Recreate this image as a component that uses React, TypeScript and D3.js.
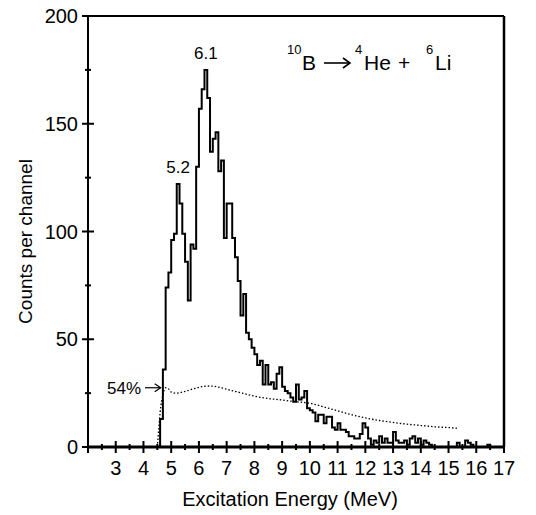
import React from "react";
import * as d3 from "d3";

// Histogram: counts per 0.1 MeV channel, first channel starts at 4.6 MeV
const binStart = 4.6;
const binWidth = 0.1;
const counts = [
  13, 36, 74, 81, 96, 99, 122, 113, 99, 86,
  68, 94, 92, 130, 157, 166, 175, 162, 137, 143,
  146, 128, 133, 97, 113, 113, 97, 88, 77, 61,
  71, 53, 50, 46, 43, 38, 40, 29, 38, 29,
  30, 27, 34, 37, 28, 26, 25, 23, 21, 29,
  22, 23, 26, 18, 17, 16, 12, 15, 15, 11,
  14, 14, 9, 8, 11, 8, 8, 7, 5, 5,
  4, 4, 6, 11, 9, 4, 1, 3, 2, 5,
  2, 4, 2, 2, 7, 3, 2, 2, 3, 1,
  4, 5, 2, 4, 1, 3, 2, 1, 0, 0,
  0, 0, 0, 0, 0, 0, 0, 2, 0, 0,
  3, 2, 1, 0, 0, 0, 0, 0, 1, 0,
];

// Dotted curve (54% level)
const dottedE = [4.5, 4.55, 4.6, 4.7, 4.8, 4.9, 5.0, 5.2, 5.5, 5.8, 6.1, 6.4, 6.7, 7.0, 7.5, 8.0, 8.5, 9.0, 9.5, 10.0, 10.5, 11.0, 11.5, 12.0, 12.5, 13.0, 13.5, 14.0, 14.5, 15.0, 15.3];
const dottedC = [0, 8, 16, 24, 27.5, 27, 25.5, 25, 25.8, 27, 28, 28.3, 27.8, 26.8, 25.2, 23.6, 22.5, 21.8, 21, 20.3, 18.6, 16.8, 15, 13.5, 12.3, 11.4, 10.6, 10, 9.4, 9, 8.7];

const xTickLabels = [3, 4, 5, 6, 7, 8, 9, 10, 11, 12, 13, 14, 15, 16, 17];
const yTickLabels = [0, 50, 100, 150, 200];

const peakLabels = [
  { text: "5.2", e: 5.25, c: 122 },
  { text: "6.1", e: 6.25, c: 175 },
];

const FONT = "'Liberation Sans', Arial, Helvetica, sans-serif";

export default function App() {
  const W = 536, H = 515;
  const left = 88, right = 504, top = 16, bottom = 447;
  const x = d3.scaleLinear().domain([2, 17]).range([left, right]);
  const y = d3.scaleLinear().domain([0, 200]).range([bottom, top]);

  const pts: [number, number][] = [];
  pts.push([x(binStart), y(0)]);
  counts.forEach((c, i) => {
    const e0 = binStart + i * binWidth;
    const e1 = e0 + binWidth;
    pts.push([x(e0), y(c)]);
    pts.push([x(e1), y(c)]);
  });
  pts.push([x(binStart + counts.length * binWidth), y(0)]);
  const histPath = d3.line()(pts) || "";

  const dotPath =
    d3
      .line<number>()
      .x((_, i) => x(dottedE[i]))
      .y((d) => y(d))
      .curve(d3.curveMonotoneX)(dottedC) || "";

  const majorX = d3.range(2, 17.01, 1);
  const minorX = d3.range(2.5, 17, 1);
  const majorY = d3.range(0, 200.1, 50);
  const minorY = d3.range(25, 200, 50);

  const arrowY = y(27.5);
  const tBase = 70;
  const sBase = 54;

  return (
    <svg width={W} height={H} style={{ position: "absolute", left: 0, top: 0, background: "#fff" }} fontFamily={FONT}>
      <rect x={0} y={0} width={W} height={H} fill="#fff" />
      {/* frame */}
      <line x1={left} x2={right} y1={top} y2={top} stroke="#000" strokeWidth={2} />
      <line x1={right} x2={right} y1={top} y2={bottom} stroke="#000" strokeWidth={2.5} />
      <line x1={left} x2={left} y1={top} y2={bottom} stroke="#000" strokeWidth={2} />
      <line x1={left} x2={right + 1} y1={bottom} y2={bottom} stroke="#000" strokeWidth={3} />

      {/* y ticks */}
      {majorY.map((v) => (
        <line key={"my" + v} x1={left - 6} x2={left + 6} y1={y(v)} y2={y(v)} stroke="#000" strokeWidth={2} />
      ))}
      {minorY.map((v) => (
        <line key={"ny" + v} x1={left - 3} x2={left + 3} y1={y(v)} y2={y(v)} stroke="#000" strokeWidth={2} />
      ))}
      {yTickLabels.map((v) => (
        <text key={"ly" + v} x={left - 10} y={y(v) + 7} textAnchor="end" fontSize={20}>
          {v}
        </text>
      ))}

      {/* x ticks */}
      {majorX.map((v) => (
        <line key={"mx" + v} x1={x(v)} x2={x(v)} y1={bottom - 6} y2={bottom + 6} stroke="#000" strokeWidth={2} />
      ))}
      {minorX.map((v) => (
        <line key={"nx" + v} x1={x(v)} x2={x(v)} y1={bottom - 3} y2={bottom + 3} stroke="#000" strokeWidth={2} />
      ))}
      {xTickLabels.map((v) => (
        <text key={"lx" + v} x={x(v)} y={bottom + 28} textAnchor="middle" fontSize={20}>
          {v}
        </text>
      ))}

      {/* dotted curve */}
      <path d={dotPath} fill="none" stroke="#000" strokeWidth={1.3} strokeDasharray="1.5,2" />
      {/* histogram */}
      <path d={histPath} fill="none" stroke="#000" strokeWidth={2} strokeLinejoin="miter" />

      {/* peak labels */}
      {peakLabels.map((p) => (
        <text key={p.text} x={x(p.e)} y={y(p.c) - 11} textAnchor="middle" fontSize={17}>
          {p.text}
        </text>
      ))}

      {/* 54% annotation */}
      <text x={107} y={arrowY + 6} fontSize={17}>54%</text>
      <line x1={145} x2={x(4.62)} y1={arrowY} y2={arrowY} stroke="#000" strokeWidth={1.2} />
      <polyline
        points={`${x(4.62) - 6},${arrowY - 4} ${x(4.62)},${arrowY} ${x(4.62) - 6},${arrowY + 4}`}
        fill="none"
        stroke="#000"
        strokeWidth={1.2}
      />

      {/* reaction title */}
      <text fontSize={13} x={287} y={sBase}>10</text>
      <text fontSize={21} x={302} y={tBase}>B</text>
      <line x1={324} x2={350} y1={tBase - 7} y2={tBase - 7} stroke="#000" strokeWidth={1.6} />
      <polyline points={`${343},${tBase - 12} ${350},${tBase - 7} ${343},${tBase - 2}`} fill="none" stroke="#000" strokeWidth={1.6} />
      <text fontSize={13} x={355} y={sBase}>4</text>
      <text fontSize={21} x={364} y={tBase}>He</text>
      <text fontSize={21} x={398} y={tBase}>+</text>
      <text fontSize={13} x={426} y={sBase}>6</text>
      <text fontSize={21} x={435} y={tBase}>Li</text>

      {/* axis titles */}
      <text x={290} y={506} textAnchor="middle" fontSize={20}>Excitation Energy (MeV)</text>
      <text transform={`translate(32, ${(top + bottom) / 2 + 10}) rotate(-90)`} textAnchor="middle" fontSize={19}>
        Counts per channel
      </text>
    </svg>
  );
}
